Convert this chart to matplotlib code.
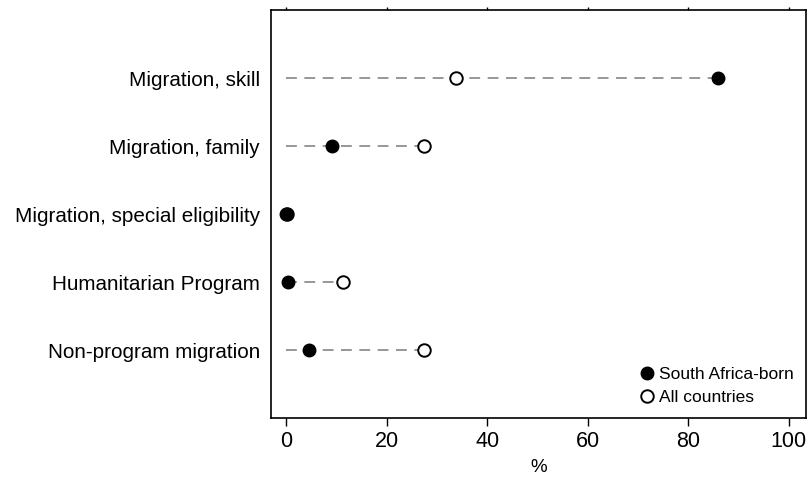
import matplotlib
matplotlib.use("Agg")
import matplotlib.pyplot as plt
from matplotlib.lines import Line2D

plt.rcParams['font.family'] = ['Liberation Sans', 'DejaVu Sans']

categories = ["Migration, skill", "Migration, family", "Migration, special eligibility",
              "Humanitarian Program", "Non-program migration"]
south_africa = [86.0, 9.0, 0.0, 0.3, 4.5]
all_countries = [33.8, 27.4, 0.1, 11.2, 27.4]
xticks = [0, 20, 40, 60, 80, 100]

fig = plt.figure(figsize=(8.12, 4.8), dpi=100)
ax = fig.add_axes([0.334, 0.129, 0.659, 0.850])

n = len(categories)
ypos = list(range(n, 0, -1))

for y, sa, ac in zip(ypos, south_africa, all_countries):
    ax.plot([0, max(sa, ac)], [y, y], color="#858585", lw=1.2,
            dashes=(6.5, 4.5), zorder=1)

ax.plot(south_africa, ypos, "o", ms=9, mfc="black", mec="black", zorder=3)
ax.plot(all_countries, ypos, "o", ms=9, mfc="white", mec="black", mew=1.4, zorder=2)

ax.set_xlim(-3, 103.5)
ax.set_ylim(0, 6)
ax.set_yticks(ypos)
ax.set_yticklabels(categories, fontsize=14.9)
ax.tick_params(axis="y", length=0, pad=8)
ax.set_xticks(xticks)
ax.set_xticklabels([str(t) for t in xticks], fontsize=15.5)
ax.tick_params(axis="x", direction="out", length=6, width=1, pad=3, top=False)
ax.set_xlabel("%", fontsize=13.5, labelpad=5)

sec = ax.secondary_xaxis("top")
sec.set_xticks(xticks)
sec.set_xticklabels([])
sec.tick_params(direction="out", length=2, width=1)
sec.spines["top"].set_visible(False)

for s in ax.spines.values():
    s.set_linewidth(1.2)

handles = [
    Line2D([], [], ls="none", marker="o", ms=9, mfc="black", mec="black"),
    Line2D([], [], ls="none", marker="o", ms=9, mfc="white", mec="black", mew=1.4),
]
ax.legend(handles, ["South Africa-born", "All countries"], loc="lower right",
          frameon=False, fontsize=12.5, handletextpad=0.05, labelspacing=0.45,
          borderaxespad=0.35, handlelength=1.2)

fig.savefig("out.png", dpi=100)
